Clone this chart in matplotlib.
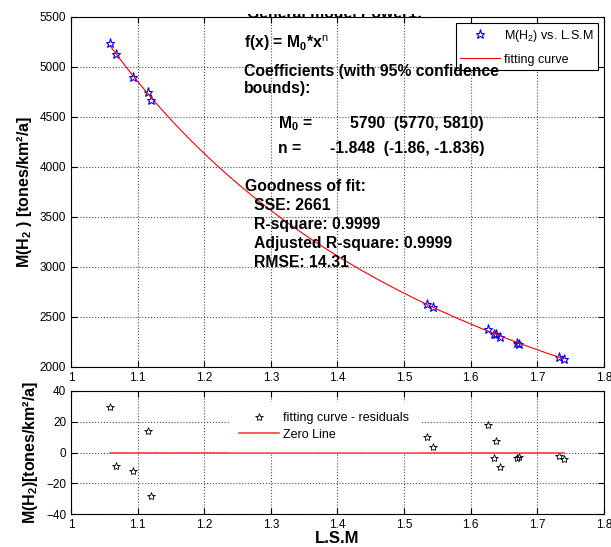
import numpy as np
import matplotlib
matplotlib.use('Agg')
import matplotlib.pyplot as plt
from matplotlib.transforms import Bbox, TransformedBbox

plt.rcParams['font.family'] = ['Liberation Sans', 'DejaVu Sans']
plt.rcParams['mathtext.fontset'] = 'custom'
plt.rcParams['mathtext.rm'] = 'Liberation Sans'
plt.rcParams['mathtext.bf'] = 'Liberation Sans:bold'
plt.rcParams['mathtext.it'] = 'Liberation Sans:italic'

# measured points: L.S.M vs M(H2), plus residuals of the power fit
lsm = [1.0585, 1.067, 1.0926, 1.115, 1.120, 1.535, 1.543, 1.626, 1.635,
       1.638, 1.644, 1.670, 1.673, 1.732, 1.740]
m_h2 = [5243, 5127, 4904, 4749, 4668, 2633, 2602, 2376, 2330,
        2333, 2301, 2241, 2234, 2096, 2076]
resid = [29.5, -8.6, -11.8, 14.0, -28.3, 9.9, 3.8, 17.7, -3.8,
         7.3, -9.6, -3.5, -3.0, -2.3, -4.2]

# power model f(x) = M0*x^n
M0 = 5790
n_exp = -1.848

xticks = [1, 1.1, 1.2, 1.3, 1.4, 1.5, 1.6, 1.7, 1.8]
xticklabels = ['1', '1.1', '1.2', '1.3', '1.4', '1.5', '1.6', '1.7', '1.8']
yticks_top = [2000, 2500, 3000, 3500, 4000, 4500, 5000, 5500]
yticks_bot = [-40, -20, 0, 20, 40]

fig = plt.figure(figsize=(6.11, 5.47), dpi=100)
ax = fig.add_axes([0.1162, 0.3291, 0.8723, 0.6399])
ax2 = fig.add_axes([0.1162, 0.0603, 0.8723, 0.2249])

def style(a):
    a.grid(True, ls=':', color='0.3', lw=0.8)
    a.tick_params(direction='in', top=True, right=True, labelsize=8.5, length=4, width=0.8)
    a.set_xlim(1, 1.8)
    a.set_xticks(xticks)
    a.set_xticklabels(xticklabels)
    for s in a.spines.values():
        s.set_linewidth(0.8)

xfit = np.linspace(min(lsm), max(lsm), 300)
yfit = M0 * xfit ** n_exp

ax.plot(lsm, m_h2, ls='none', marker='*', ms=6.5, mfc='none', mec='blue', mew=0.8,
        label='M(H$_2$) vs. L.S.M')
ax.plot(xfit, yfit, color='red', lw=0.8, label='fitting curve')
style(ax)
ax.set_ylim(2000, 5500)
ax.set_yticks(yticks_top)
ax.set_ylabel('M(H$_\\mathbf{2}$ ) [tones/km²/a]', fontsize=11.5, fontweight='bold')
ax.legend(loc='upper right', fontsize=9, fancybox=False, edgecolor='black',
          framealpha=1, borderaxespad=0.5, handlelength=3.2, handletextpad=0.3,
          labelspacing=0.8, borderpad=0.35).get_frame().set_linewidth(0.8)

# fit summary block
tkw = dict(transform=ax.transAxes, fontsize=11.3, fontweight='bold', va='baseline', zorder=6)
ax.text(0.3246, 0.9114, 'f(x) = M$_\\mathbf{0}$*x$^\\mathrm{n}$', **tkw)
ax.text(0.3246, 0.8314, 'Coefficients (with 95% confidence', **tkw)
ax.text(0.3246, 0.7829, 'bounds):', **tkw)
ax.text(0.3884, 0.6829, 'M$_\\mathbf{0}$ =', **tkw)
ax.text(0.5235, 0.6829, '5790  (5770, 5810)', **tkw)
ax.text(0.3884, 0.6114, 'n =', **tkw)
ax.text(0.4859, 0.6114, '-1.848  (-1.86, -1.836)', **tkw)
ax.text(0.3265, 0.5029, 'Goodness of fit:', **tkw)
ax.text(0.3433, 0.4486, 'SSE: 2661', **tkw)
ax.text(0.3433, 0.3943, 'R-square: 0.9999', **tkw)
ax.text(0.3433, 0.3400, 'Adjusted R-square: 0.9999', **tkw)
ax.text(0.3433, 0.2857, 'RMSE: 14.31', **tkw)

# header line of the results box, only its lower edge shows below the frame top
hdr = fig.text(247 / 611, 1 - 18.5 / 547, 'General model Power1:', fontsize=11.3,
               fontweight='bold', va='baseline')
hdr.set_clip_box(TransformedBbox(Bbox([[0, 1 - 17.5 / 547], [1, 1 - 14 / 547]]),
                                 fig.transFigure))
hdr.set_clip_on(True)

ax2.plot(lsm, resid, ls='none', marker='*', ms=6, mfc='none', mec='black', mew=0.6,
         label='fitting curve - residuals')
ax2.plot([min(lsm), max(lsm)], [0, 0], color='#ff4040', lw=1.2, label='Zero Line')
style(ax2)
ax2.set_ylim(-40, 40)
ax2.set_yticks(yticks_bot)
ax2.set_ylabel('M(H$_\\mathbf{2}$)[tones/km²/a]', fontsize=11.5, fontweight='bold')
ax2.set_xlabel('L.S.M', fontsize=12, fontweight='bold', labelpad=0)
leg2 = ax2.legend(loc='upper left', bbox_to_anchor=(0.285, 0.96), fontsize=9,
                  frameon=True, fancybox=False, edgecolor='white', framealpha=1,
                  borderpad=0.8, handlelength=3.2, handletextpad=0.3, labelspacing=0.35)

fig.savefig('out.png', dpi=100)
